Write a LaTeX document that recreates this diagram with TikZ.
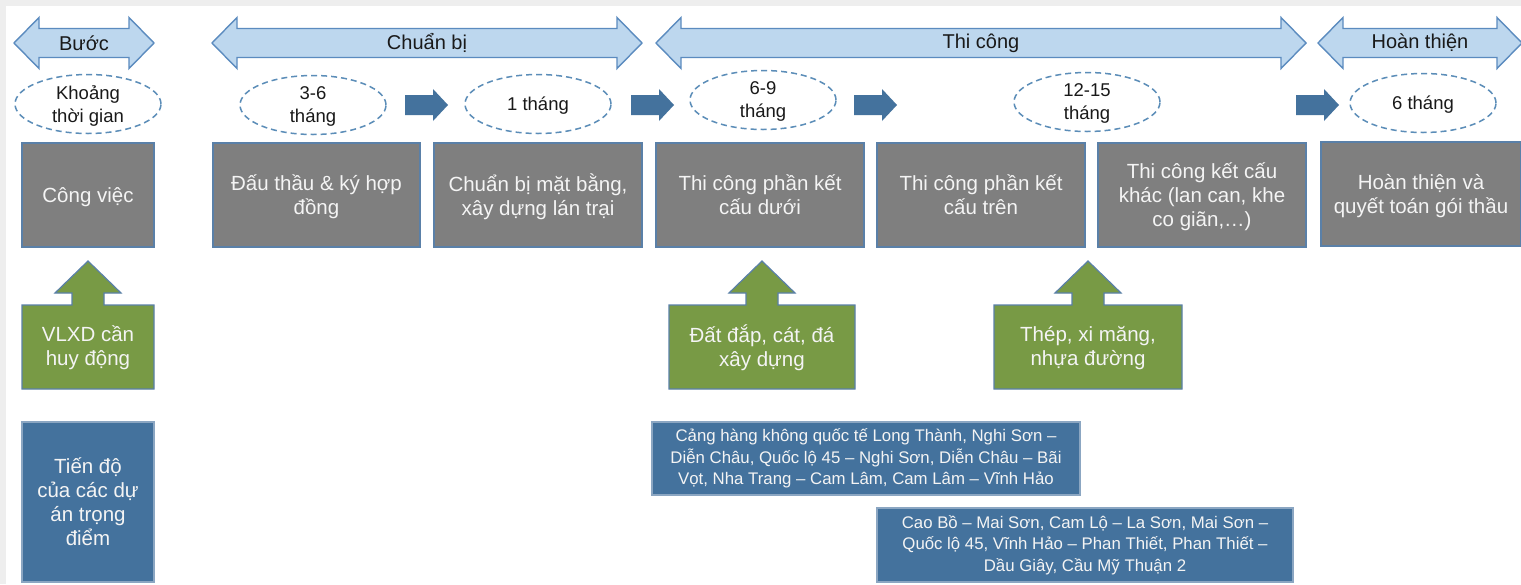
\documentclass[tikz,border=0pt]{standalone}
\usepackage{fontspec}
\setmainfont{Liberation Sans}
\usetikzlibrary{shapes.geometric}
\definecolor{hdrfill}{HTML}{BDD7EE}
\definecolor{hdrline}{HTML}{5B8BBF}
\definecolor{ellline}{HTML}{5B8DB8}
\definecolor{boxgrey}{HTML}{7F7F7F}
\definecolor{boxline}{HTML}{5A80A8}
\definecolor{boxblue}{HTML}{44729D}
\definecolor{boxgreen}{HTML}{789A45}
\definecolor{bgstrip}{HTML}{EEEEEE}
\definecolor{txtwhite}{HTML}{F4F4F4}
\newcommand\hdrarrow[4]{%
  \draw[hdr] (#2,43) -- ({#2+25},17.5) -- ({#2+25},28.5) -- ({#3-25},28.5) -- ({#3-25},17.5) -- (#3,43)
    -- ({#3-25},68.5) -- ({#3-25},57.5) -- ({#2+25},57.5) -- ({#2+25},68.5) -- cycle;
  \node[hdrtext] (#1) at ({(#2+#3)/2},43) {#4};}
\newcommand\rblue[1]{%
  \fill[boxblue] (#1,95) -- ({#1+28},95) -- ({#1+28},89) -- ({#1+43},105) -- ({#1+28},121) -- ({#1+28},115) -- (#1,115) -- cycle;}
\newcommand\greencall[5]{%
  \draw[gcall] (#2,305) -- ({#4-16},305) -- ({#4-16},293) -- ({#4-33},293) -- (#4,261) -- ({#4+33},293)
    -- ({#4+16},293) -- ({#4+16},305) -- (#3,305) -- (#3,389) -- (#2,389) -- cycle;
  \node[gtext] (#1) at ({(#2+#3)/2},346) {#5};}
\begin{document}
\begin{tikzpicture}[x=0.5pt,y=-0.5pt,
  hdr/.style={fill=hdrfill,draw=hdrline,line width=0.7pt,line join=miter},
  hdrtext/.style={font=\fontsize{10pt}{12pt}\selectfont,text=black!90,inner sep=0pt},
  ell/.style={ellipse,draw=ellline,line width=0.75pt,dash pattern=on 3pt off 2pt,fill=white,
    minimum width=73pt,minimum height=29.5pt,inner sep=0pt,align=center,text depth=0pt,
    font=\fontsize{9.25pt}{11.5pt}\selectfont,text=black!90},
  gbox/.style={rectangle,fill=boxgrey,draw=boxline,line width=0.6pt,inner sep=0pt,align=center,
    text depth=0pt,text=txtwhite,font=\fontsize{10.25pt}{12pt}\selectfont},
  gcall/.style={fill=boxgreen,draw=boxline,line width=0.6pt,line join=miter},
  gtext/.style={inner sep=0pt,align=center,text depth=0pt,text=txtwhite,font=\fontsize{10.25pt}{12pt}\selectfont},
  bbox/.style={rectangle,fill=boxblue,draw=boxline!70!white,line width=0.6pt,inner sep=0pt,align=center,
    text=txtwhite},
  bsmall/.style={font=\fontsize{8.4pt}{10.75pt}\selectfont},
  blarge/.style={font=\fontsize{10.25pt}{12pt}\selectfont,text depth=0pt}]
\useasboundingbox (0,0) rectangle (1521,584);
\fill[bgstrip] (0,0) rectangle (1521,584);
\fill[white] (6,6) rectangle (1521,584);
% header arrows
\hdrarrow{hBuoc}{14}{154}{Bước}
\hdrarrow{hChuan}{212}{642}{Chuẩn bị}
\hdrarrow{hThi}{656}{1306}{Thi công}
\hdrarrow{hHoan}{1318}{1522}{Hoàn thiện}
% ellipses
\node[ell] (e0) at (88,104) {Khoảng\\thời gian};
\node[ell] (e1) at (313,105) {3-6\\tháng};
\node[ell] (e2) at (538,104) {1 tháng};
\node[ell] (e3) at (763,100) {6-9\\tháng};
\node[ell] (e4) at (1087,102) {12-15\\tháng};
\node[ell] (e5) at (1423,103) {6 tháng};
% blue arrows
\rblue{405}
\rblue{631}
\rblue{854}
\rblue{1296}
% grey boxes
\node[gbox,minimum width=66pt,minimum height=52pt] (b0) at (88,195) {Công việc};
\node[gbox,minimum width=103.5pt,minimum height=52pt] (b1) at (316.5,195) {Đấu thầu \& ký hợp\\đồng};
\node[gbox,minimum width=104pt,minimum height=52pt] (b2) at (538,195) {Chuẩn bị mặt bằng,\\xây dựng lán trại};
\node[gbox,minimum width=104pt,minimum height=52pt] (b3) at (760,195) {Thi công phần kết\\cấu dưới};
\node[gbox,minimum width=104pt,minimum height=52pt] (b4) at (981,195) {Thi công phần kết\\cấu trên};
\node[gbox,minimum width=104pt,minimum height=52pt] (b5) at (1202,195) {Thi công kết cấu\\khác (lan can, khe\\co giãn,…)};
\node[gbox,minimum width=100pt,minimum height=52pt] (b6) at (1421,194) {Hoàn thiện và\\quyết toán gói thầu};
% green callouts
\greencall{g0}{22}{154}{88}{VLXD cần\\huy động}
\greencall{g1}{669}{855}{762}{Đất đắp, cát, đá\\xây dựng}
\greencall{g2}{994}{1182}{1088}{Thép, xi măng,\\nhựa đường}
% blue boxes
\node[bbox,blarge,minimum width=66pt,minimum height=80pt] (p0) at (88,502) {Tiến độ\\của các dự\\án trọng\\điểm};
\node[bbox,bsmall,minimum width=214pt,minimum height=36.5pt] (p1) at (866,458.5) {Cảng hàng không quốc tế Long Thành, Nghi Sơn –\\Diễn Châu, Quốc lộ 45 – Nghi Sơn, Diễn Châu – Bãi\\Vọt, Nha Trang – Cam Lâm, Cam Lâm – Vĩnh Hảo};
\node[bbox,bsmall,minimum width=208pt,minimum height=37pt] (p2) at (1085,545) {Cao Bồ – Mai Sơn, Cam Lộ – La Sơn, Mai Sơn –\\Quốc lộ 45, Vĩnh Hảo – Phan Thiết, Phan Thiết –\\Dầu Giây, Cầu Mỹ Thuận 2};
\end{tikzpicture}
\end{document}
